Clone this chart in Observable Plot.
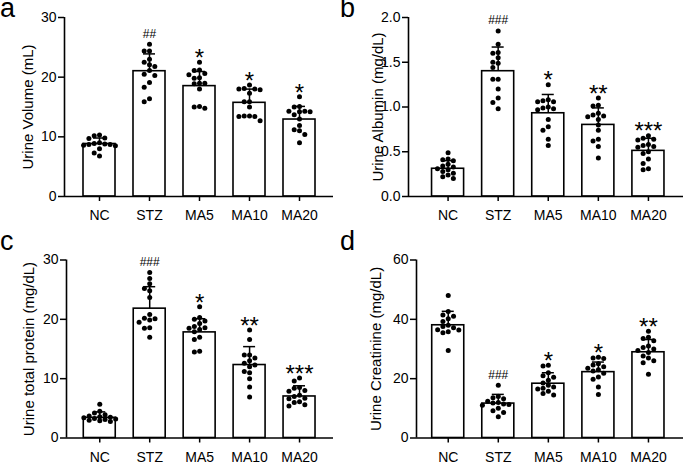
<!DOCTYPE html>
<html>
<head>
<meta charset="utf-8">
<script src="https://cdn.jsdelivr.net/npm/d3@7"></script>
<script src="https://cdn.jsdelivr.net/npm/@observablehq/plot@0.6"></script>
<style>
  body { margin: 0; background: #fff; font-family: "Liberation Sans", Arial, sans-serif; }
  #wrap { position: relative; width: 685px; height: 463px; overflow: hidden; background: #fff; }
  .panel { position: absolute; }
  .letter { position: absolute; font-size: 27px; line-height: 17px; color: #000; font-family: "Liberation Sans", Arial, sans-serif; }
</style>
</head>
<body>
<div id="wrap"></div>
<script>
// ---------- data ----------
const groups = ["NC", "STZ", "MA5", "MA10", "MA20"];

// a: Urine Volume (mL)
const volumePoints = [
  [10.3, 10.2, 9.8, 9.7, 9.0, 8.9, 8.8, 8.7, 8.7, 8.6, 8.5, 8.0, 7.3, 6.8],
  [25.5, 24.4, 24.4, 23.0, 22.5, 22.1, 21.8, 21.1, 20.5, 20.3, 19.1, 18.3, 16.4, 15.9],
  [22.5, 21.2, 21.1, 20.6, 20.4, 19.9, 19.8, 19.0, 19.0, 18.9, 18.0, 15.1, 15.0, 14.8],
  [18.7, 18.1, 18.0, 18.0, 17.9, 17.3, 15.9, 15.9, 15.0, 13.5, 13.5, 13.4, 13.4, 12.7],
  [16.7, 15.1, 15.0, 14.3, 14.3, 14.2, 14.2, 13.7, 13.0, 11.9, 11.2, 11.0, 10.4, 9.0]
];
const volumeMeans = [8.8, 21.0, 18.5, 15.7, 12.9];
const volumeSD = [1.0, 2.9, 2.45, 2.3, 2.2];
const volumeSig = ["", "##", "*", "*", "*"];
const volumeTicks = [0, 10, 20, 30];

// b: Urine Albumin (mg/dL)
const albuminPoints = [
  [0.49, 0.42, 0.41, 0.40, 0.36, 0.34, 0.33, 0.31, 0.30, 0.28, 0.26, 0.24, 0.22, 0.20],
  [1.85, 1.70, 1.61, 1.60, 1.55, 1.50, 1.49, 1.44, 1.31, 1.31, 1.20, 1.10, 1.05, 0.98],
  [1.25, 1.08, 1.07, 1.06, 1.06, 1.00, 0.99, 0.98, 0.97, 0.86, 0.78, 0.74, 0.64, 0.57],
  [1.10, 1.02, 1.01, 0.93, 0.91, 0.90, 0.89, 0.86, 0.80, 0.74, 0.64, 0.62, 0.56, 0.43],
  [0.68, 0.65, 0.64, 0.63, 0.58, 0.57, 0.56, 0.55, 0.50, 0.48, 0.42, 0.37, 0.31, 0.30]
];
const albuminMeans = [0.31, 1.40, 0.93, 0.80, 0.51];
const albuminSD = [0.09, 0.27, 0.21, 0.19, 0.14];
const albuminSig = ["", "###", "*", "**", "***"];
const albuminTicks = [0, 0.5, 1.0, 1.5, 2.0];

// c: Urine total protein (mg/dL)
const proteinPoints = [
  [5.7, 4.5, 4.2, 3.9, 3.7, 3.6, 3.5, 3.4, 3.3, 3.2, 3.1, 3.0, 2.9, 2.8],
  [27.9, 26.9, 26.0, 25.2, 24.8, 23.7, 20.8, 20.2, 20.1, 19.9, 19.5, 18.6, 18.5, 17.0],
  [22.1, 20.3, 20.0, 19.7, 19.3, 18.8, 18.6, 18.5, 18.3, 17.9, 17.0, 16.6, 14.6, 14.5],
  [18.2, 16.6, 14.0, 14.0, 13.5, 13.0, 12.6, 12.3, 12.0, 11.2, 11.0, 10.0, 8.6, 6.9],
  [10.1, 9.6, 8.5, 8.4, 8.0, 7.9, 7.2, 7.0, 6.7, 6.6, 6.1, 6.0, 5.6, 5.4]
];
const proteinMeans = [3.4, 21.8, 17.8, 12.3, 7.0];
const proteinSD = [1.0, 3.7, 2.3, 3.1, 1.8];
const proteinSig = ["", "###", "*", "**", "***"];
const proteinTicks = [0, 10, 20, 30];

// d: Urine Creatinine (mg/dL)
const creatininePoints = [
  [48.0, 42.6, 41.5, 41.0, 40.2, 39.3, 38.0, 37.6, 37.2, 36.5, 36.4, 35.8, 35.5, 29.5],
  [17.8, 14.0, 13.6, 13.2, 12.4, 12.0, 11.8, 11.5, 11.3, 11.0, 10.0, 9.2, 8.6, 7.2],
  [24.5, 24.3, 22.0, 21.0, 20.5, 19.5, 18.5, 17.8, 17.2, 16.8, 16.5, 15.8, 15.0, 14.5],
  [27.2, 27.0, 26.8, 25.0, 24.6, 24.0, 23.5, 23.0, 22.6, 21.8, 20.6, 19.8, 17.2, 14.7],
  [36.0, 34.0, 33.5, 32.8, 31.0, 30.5, 30.0, 29.5, 28.8, 27.6, 27.0, 26.0, 25.4, 21.5]
];
const creatinineMeans = [38.0, 11.6, 18.3, 22.2, 28.9];
const creatinineSD = [4.7, 3.1, 3.7, 3.4, 4.3];
const creatinineSig = ["", "###", "*", "*", "**"];
const creatinineTicks = [0, 20, 40, 60];

// ---------- layout ----------
const FONT = "'Liberation Sans', Arial, sans-serif";
const panels = [
  {letter: "a", points: volumePoints, means: volumeMeans, sds: volumeSD, sig: volumeSig, ticks: volumeTicks,
   title: "Urine Volume (mL)", fmt: d3.format("d"), left: 0, top: 0, w: 342, h: 230,
   ml: 64, mr: 9, mt: 17, mb: 34, xmin: -0.70, xmax: 4.68, titleDx: -36, lx: 0, ly: 0},
  {letter: "b", points: albuminPoints, means: albuminMeans, sds: albuminSD, sig: albuminSig, ticks: albuminTicks,
   title: "Urine Albumin (mg/dL)", fmt: d3.format(".1f"), left: 342, top: 0, w: 343, h: 230,
   ml: 66, mr: 2, mt: 17, mb: 34, xmin: -0.79, xmax: 4.70, titleDx: -30, lx: 340, ly: 0},
  {letter: "c", points: proteinPoints, means: proteinMeans, sds: proteinSD, sig: proteinSig, ticks: proteinTicks,
   title: "Urine total protein (mg/dL)", fmt: d3.format("d"), left: 0, top: 230, w: 342, h: 233,
   ml: 66, mr: 9, mt: 29.5, mb: 25.5, xmin: -0.666, xmax: 4.68, titleDx: -37.5, lx: 0, ly: 233},
  {letter: "d", points: creatininePoints, means: creatinineMeans, sds: creatinineSD, sig: creatinineSig, ticks: creatinineTicks,
   title: "Urine Creatinine (mg/dL)", fmt: d3.format("d"), left: 342, top: 230, w: 343, h: 233,
   ml: 74, mr: 2, mt: 29.5, mb: 25.5, xmin: -0.634, xmax: 4.70, titleDx: -40, lx: 340, ly: 233}
];

const R = 2.5;          // dot radius (px)
const STEP = 5.3;       // horizontal spread step (px)
const MIND = 5.0;       // min center distance (px)

function swarm(p) {
  const ymax = p.ticks[p.ticks.length - 1];
  const pxY = (p.h - p.mt - p.mb) / ymax;
  const pxX = (p.w - p.ml - p.mr) / (p.xmax - p.xmin);
  const out = [];
  p.points.forEach((vals, gi) => {
    const placed = [];
    const order = vals.map((v, i) => i).sort((a, b) => vals[b] - vals[a]);
    for (const i of order) {
      const v = vals[i];
      let chosen = null, bestScore = -1, bestOx = 0;
      for (const k of [0, -1, 1, -2, 2, -3, 3]) {
        const ox = k * STEP;
        const dmin = placed.length ? d3.min(placed, q => Math.hypot(q.ox - ox, (q.v - v) * pxY)) : Infinity;
        if (dmin >= MIND) { chosen = ox; break; }
        if (dmin > bestScore) { bestScore = dmin; bestOx = ox; }
      }
      if (chosen === null) chosen = bestOx;
      placed.push({ox: chosen, v});
      out.push({x: gi + chosen / pxX, y: v});
    }
  });
  return out;
}

const wrap = document.getElementById("wrap");
for (const p of panels) {
  const ymax = p.ticks[p.ticks.length - 1];
  const bars = groups.map((g, i) => ({i, mean: p.means[i], top: p.means[i] + p.sds[i]}));
  const dots = swarm(p);
  const ann = groups.map((g, i) => ({i, y: d3.max(p.points[i]), t: p.sig[i]})).filter(d => d.t);
  const hashes = ann.filter(d => d.t.startsWith("#"));
  const stars = ann.filter(d => d.t.startsWith("*"));

  const svg = Plot.plot({
    width: p.w, height: p.h,
    marginLeft: p.ml, marginRight: p.mr, marginTop: p.mt, marginBottom: p.mb,
    x: {domain: [p.xmin, p.xmax], axis: null},
    y: {domain: [0, ymax], axis: null},
    style: {fontFamily: FONT, fontSize: "14px", color: "#000", background: "transparent", overflow: "visible"},
    marks: [
      Plot.rect(bars, {x1: d => d.i - 0.32, x2: d => d.i + 0.32, y1: 0, y2: "mean",
        fill: "white", stroke: "black", strokeWidth: 1.6}),
      Plot.ruleX(bars, {x: "i", y1: "mean", y2: "top", stroke: "black", strokeWidth: 1.5}),
      Plot.ruleY(bars, {y: "top", x1: d => d.i - 0.12, x2: d => d.i + 0.12, stroke: "black", strokeWidth: 1.5}),
      Plot.dot(dots, {x: "x", y: "y", r: R, fill: "black", stroke: "none"}),
      Plot.ruleX([p.xmin], {y1: 0, y2: ymax, stroke: "black", strokeWidth: 1.6}),
      Plot.ruleY([0], {x1: p.xmin, x2: p.xmax, stroke: "black", strokeWidth: 1.6}),
      Plot.axisY({ticks: p.ticks, tickFormat: p.fmt, tickSize: 6, tickPadding: 2, label: null,
        fontSize: 14, strokeWidth: 1.5}),
      Plot.axisX({ticks: [0, 1, 2, 3, 4], tickFormat: i => groups[i], tickSize: 5, tickPadding: 9,
        label: null, fontSize: 14, strokeWidth: 1.5}),
      Plot.text([p.title], {frameAnchor: "left", rotate: -90, dx: p.titleDx, textAnchor: "middle",
        fontSize: 15, fill: "black"}),
      Plot.text(hashes, {x: "i", y: "y", text: "t", fontSize: 12, dy: -10.5, fill: "black"}),
      Plot.text(stars, {x: "i", y: "y", text: "t", fontSize: 24, dy: -4, fill: "black"})
    ]
  });
  const div = document.createElement("div");
  div.className = "panel";
  div.style.left = p.left + "px";
  div.style.top = p.top + "px";
  div.appendChild(svg);
  wrap.appendChild(div);

  const lab = document.createElement("div");
  lab.className = "letter";
  lab.textContent = p.letter;
  lab.style.left = p.lx + "px";
  lab.style.top = p.ly + "px";
  wrap.appendChild(lab);
}
</script>
</body>
</html>
